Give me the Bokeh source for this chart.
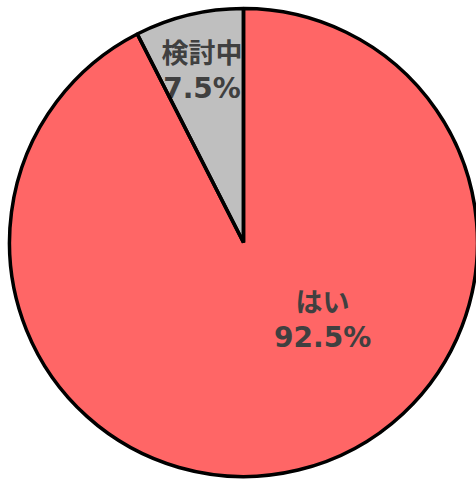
import math
from bokeh.plotting import figure
from bokeh.models import Range1d, ColumnDataSource
from bokeh.core.properties import value
from bokeh.embed import file_html
from bokeh.resources import INLINE

# Data
categories = ["はい", "検討中"]
percents = [92.5, 7.5]
colors = ["#FF6666", "#BFBFBF"]

R = 234
W, H = 476, 480
cx_px, cy_px = 243, 242

p = figure(width=W, height=H, output_backend="svg", toolbar_location=None,
           x_range=Range1d(-cx_px, W - cx_px), y_range=Range1d(-(H - cy_px), cy_px),
           min_border=0, outline_line_color=None)
p.axis.visible = False
p.grid.visible = False
p.background_fill_color = "white"
p.border_fill_color = "white"

total = sum(percents)
a = math.pi / 2
ang = {}
g = percents[1] / total * 2 * math.pi
ang["検討中"] = (a, a + g)
ang["はい"] = (a + g, a + 2 * math.pi)
starts = [ang[c][0] for c in categories]
ends = [ang[c][1] for c in categories]

src = ColumnDataSource(dict(start=starts, end=ends, color=colors))
p.wedge(x=0, y=0, radius=R, start_angle="start", end_angle="end",
        fill_color="color", line_color=None, source=src)

# label positions (layout)
label_pos = {
    "はい": (math.radians(-44), 0.47),
    "検討中": ((ang["検討中"][0] + ang["検討中"][1]) / 2, 0.76),
}
lx, ly, name_t, pct_t = [], [], [], []
for c, v in zip(categories, percents):
    th, f = label_pos[c]
    lx.append(R * f * math.cos(th))
    ly.append(R * f * math.sin(th))
    name_t.append(c)
    pct_t.append(f"{v}%")

FONT = value("DejaVu Sans, Noto Sans CJK JP")
ls = ColumnDataSource(dict(x=lx, y=ly, name=name_t, pct=pct_t))
p.text(x="x", y="y", text="name", source=ls, y_offset=-18,
       text_font=value("Noto Sans CJK JP"), text_font_style="bold",
       text_font_size="27px", text_color="#404040",
       text_align="center", text_baseline="middle")
p.text(x="x", y="y", text="pct", source=ls, y_offset=19,
       text_font=FONT, text_font_style="bold",
       text_font_size="28px", text_color="#404040",
       text_align="center", text_baseline="middle")

p.wedge(x=0, y=0, radius=R, start_angle="start", end_angle="end",
        fill_color=None, line_color="black", line_width=3.5, source=src)

open("out.html", "w").write(file_html(p, INLINE))
